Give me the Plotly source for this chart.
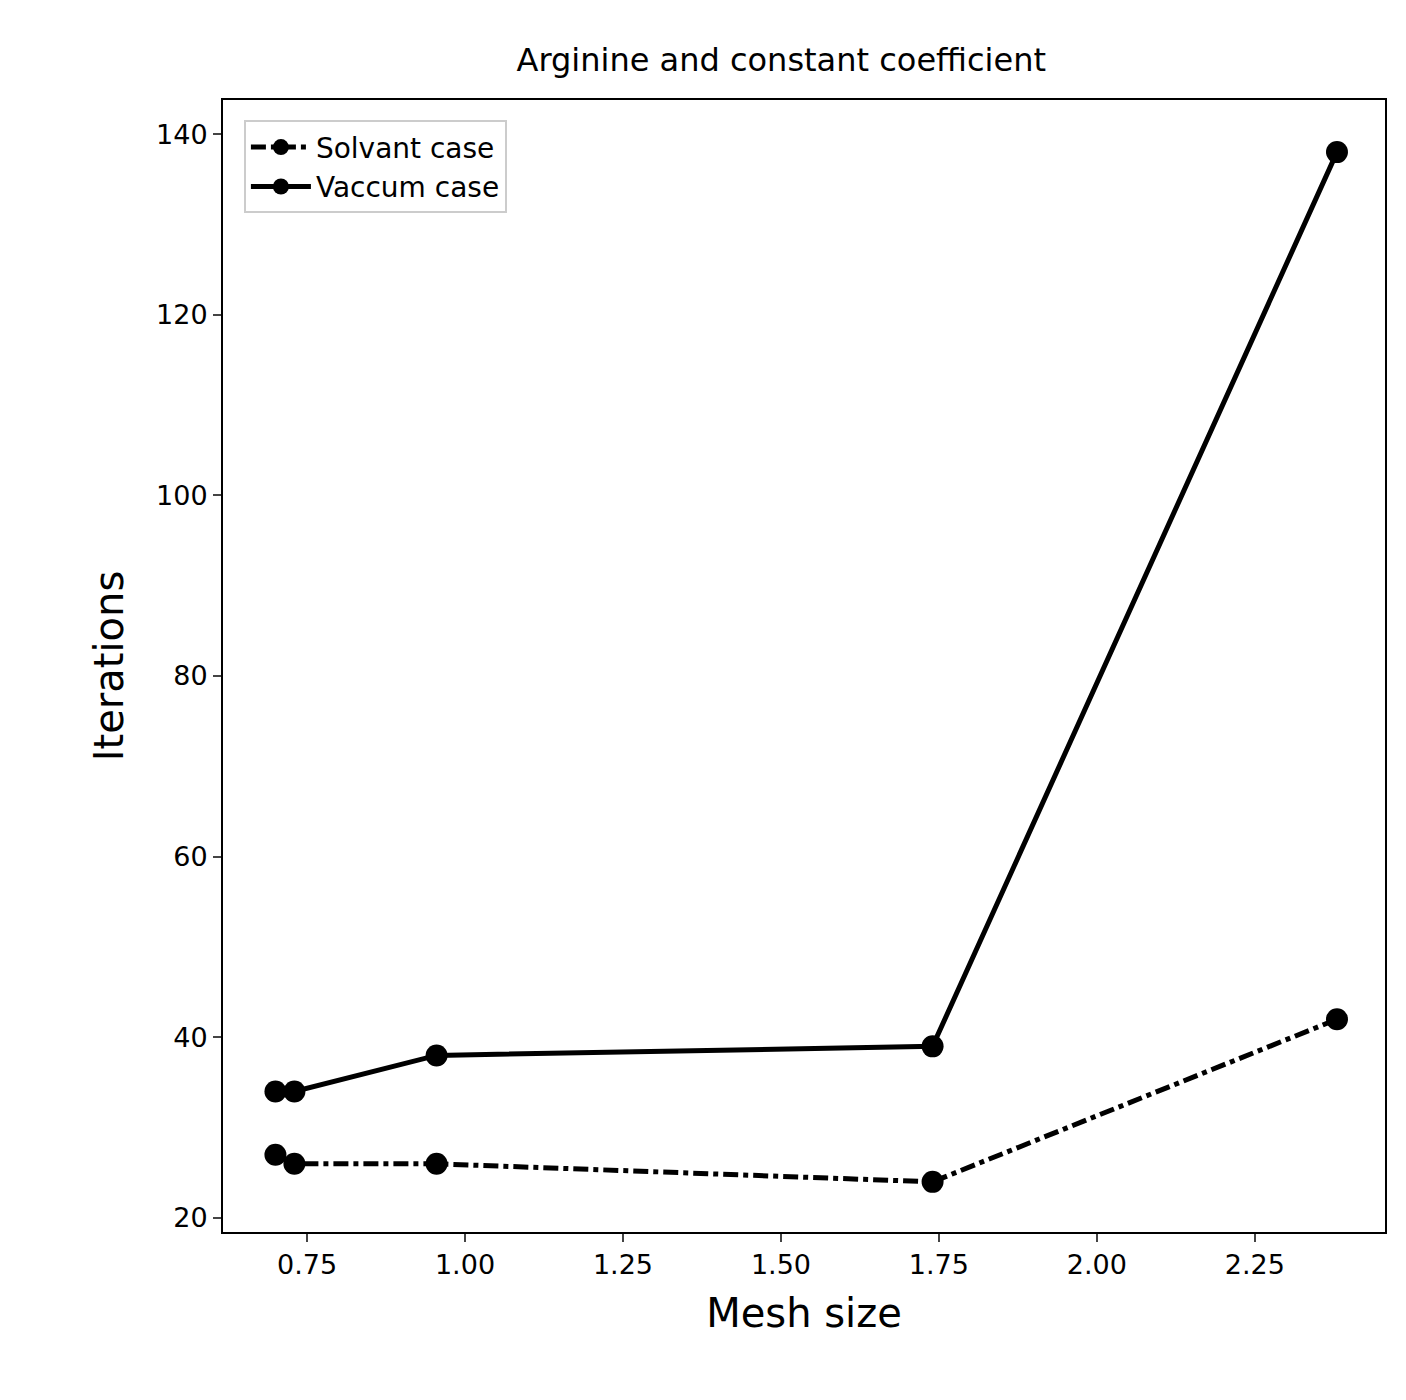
import plotly.graph_objects as go

mesh_size = [0.70, 0.73, 0.955, 1.74, 2.38]
solvant_iters = [27, 26, 26, 24, 42]
vaccum_iters = [34, 34, 38, 39, 138]

fig = go.Figure()
fig.add_trace(go.Scatter(x=mesh_size, y=solvant_iters, mode="lines+markers", name="Solvant case",
                         line=dict(color="black", width=5, dash="dashdot"),
                         marker=dict(color="black", size=22)))
fig.add_trace(go.Scatter(x=mesh_size, y=vaccum_iters, mode="lines+markers", name="Vaccum case",
                         line=dict(color="black", width=5),
                         marker=dict(color="black", size=22)))

axis_common = dict(showgrid=False, zeroline=False, showline=True, linecolor="black", linewidth=2,
                   mirror=True, ticks="outside", ticklen=8, tickwidth=2,
                   tickfont=dict(size=27, color="black"))
fig.update_layout(
    width=1406, height=1400, plot_bgcolor="white", paper_bgcolor="white",
    font=dict(family="DejaVu Sans", color="black"),
    margin=dict(l=215, r=29, t=92, b=176),
    title=dict(text="Arginine and constant coefficient", x=0.55, xanchor="center",
               y=0.963, yanchor="middle", font=dict(size=32)),
    xaxis=dict(axis_common, range=[0.617, 2.456], tickvals=[0.75, 1.0, 1.25, 1.5, 1.75, 2.0, 2.25],
               ticktext=["0.75", "1.00", "1.25", "1.50", "1.75", "2.00", "2.25"],
               title=dict(text="Mesh size", font=dict(size=40), standoff=20)),
    yaxis=dict(axis_common, range=[18.45, 143.77], tickvals=[20, 40, 60, 80, 100, 120, 140],
               title=dict(text="Iterations", font=dict(size=40), standoff=20)),
    legend=dict(x=0.018, y=0.982, xanchor="left", yanchor="top", bordercolor="#cccccc",
                borderwidth=2, bgcolor="white", font=dict(size=28), itemwidth=60,
                tracegroupgap=10),
)
fig.write_html("out.html")
